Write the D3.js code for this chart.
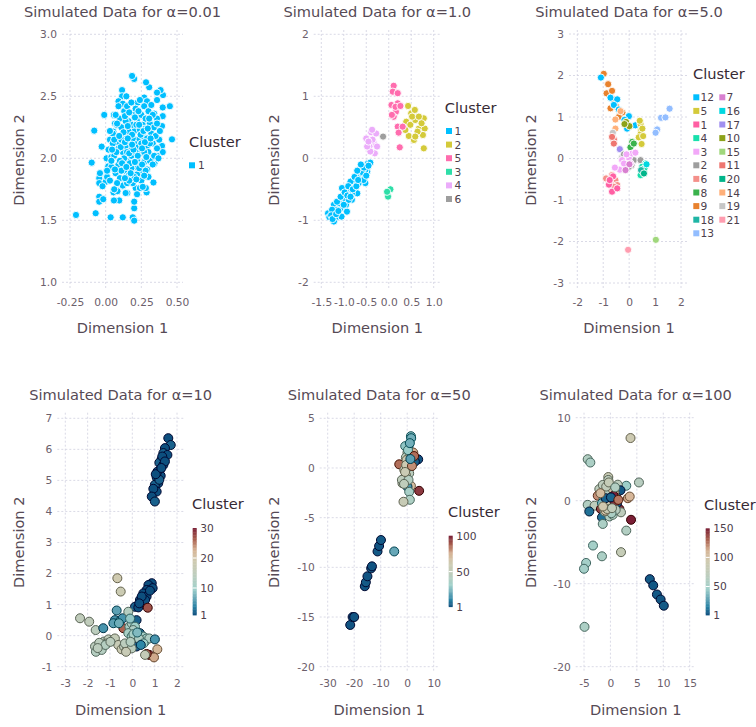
<!DOCTYPE html>
<html>
<head>
<meta charset="utf-8">
<script src="https://cdn.jsdelivr.net/npm/d3@7"></script>
<style>
  body { margin: 0; background: #fff; }
  svg text { font-family: "DejaVu Sans", sans-serif; }
</style>
</head>
<body>
<svg width="756" height="727"></svg>
<script>
// ---- data ----
var alpha001Points = [
  [-0.208,1.543],[-0.07,1.557],[-0.098,1.965],[-0.08,2.223],[-0.01,2.35],[-0.045,1.84],[-0.045,1.69],[-0.045,1.65],
  [-0.017,1.67],[0.035,1.524],[0.12,1.524],[0.19,1.524],[0.2,1.497],[0.2,1.597],[0.2,1.65],[0.095,1.66],[0.058,1.66],
  [0.152,1.72],[0.21,1.76],[0.24,1.76],[0.22,1.71],[0.287,1.725],[0.282,1.76],[0.335,1.805],[0.342,1.96],[0.465,2.153],
  [0.45,2.42],[0.40,2.34],[0.40,2.41],[0.402,2.51],[0.385,2.55],[0.36,2.53],[0.36,2.47],[0.305,2.573],[0.283,2.613],
  [0.2,2.64],[0.185,2.664],[0.115,2.55],[0.115,2.5],[0.145,2.5],[0.09,2.46],[0.225,2.45],[0.27,2.49],[0.29,2.46],
  [0.34,2.36],[0.36,2.32],[0.395,2.26],[0.395,2.10],[0.40,2.05],[0.375,2.15],[0.36,2.02],[0.32,1.99],[0.29,1.91],
  [0.26,1.89],[-0.028,2.094],[0.006,2.0],[0.018,1.935],[-0.04,1.88],[-0.045,1.8],[0.0,1.81],[0.04,2.01],[0.03,2.15],
  [0.054,2.215],[0.065,2.28],[0.058,2.35],[0.077,2.27],[0.01,1.85],[-0.022,1.775],[0.055,1.725],[0.083,1.735],[0.12,1.775],
  [0.05,2.20],[0.08,2.12],[0.11,2.25],[0.14,2.18],[0.17,2.08],[0.2,2.22],[0.23,2.15],[0.26,2.27],[0.29,2.1],[0.32,2.2],
  [0.06,2.02],[0.09,1.95],[0.12,2.05],[0.15,1.98],[0.18,2.02],[0.21,1.93],[0.24,2.04],[0.27,1.97],[0.3,2.05],[0.33,2.12],
  [0.07,1.88],[0.1,1.84],[0.13,1.9],[0.16,1.86],[0.19,1.8],[0.22,1.87],[0.25,1.82],[0.28,1.9],[0.04,1.93],[0.02,2.07],
  [0.1,2.32],[0.13,2.38],[0.16,2.3],[0.19,2.36],[0.22,2.3],[0.25,2.35],[0.28,2.32],[0.31,2.28],[0.34,2.25],[0.08,2.28],
  [0.12,2.44],[0.15,2.42],[0.18,2.45],[0.21,2.4],[0.27,2.42],[0.3,2.38],[0.33,2.35],[0.11,2.15],[0.14,2.1],[0.17,2.14],
  [0.2,2.12],[0.23,2.09],[0.26,2.18],[0.29,2.16],[0.35,2.18],[0.36,2.08],[0.31,1.98],[0.34,2.02],[0.05,2.12],[0.03,2.22],
  [0.07,2.35],[0.19,2.27],[0.16,2.22],[0.13,2.0],[0.22,1.98],[0.09,2.08],[0.24,2.23],[0.27,2.05],[0.18,1.92],[0.12,1.78],
  [0.15,1.8],[0.08,1.8],[0.26,1.77],[0.3,1.85],[0.2,1.85],[0.04,1.98],[0.36,2.28],[0.38,2.22],[0.32,2.43],[0.24,2.47],
  [0.17,1.96],[0.14,2.3],[0.25,2.12],[0.21,2.05],[0.1,1.98],[0.06,2.15],[0.28,2.24],[0.31,2.12],[0.01,1.9],[0.03,1.82],
  [0.23,2.38],[0.15,2.05],[0.19,2.16],[0.11,1.9],[0.27,1.86],[0.33,1.95],[0.37,2.0],[0.14,1.72],[0.06,1.75],[0.09,2.42],
  [0.125,2.21],[0.155,2.26],[0.185,2.19],[0.215,2.27],[0.245,2.19],[0.275,2.13],[0.105,2.09],[0.135,2.13],[0.165,2.04],
  [0.195,2.07],[0.225,2.02],[0.255,2.08],[0.285,2.01],[0.115,1.96],[0.145,1.93],[0.175,1.88],[0.205,1.97],[0.235,1.92],
  [0.095,2.18],[0.075,2.05],[0.065,1.91],[0.135,2.34],[0.165,2.37],[0.205,2.33],[0.235,2.27],[0.265,2.22],[0.295,2.24],
  [0.315,2.16],[0.185,2.11],[0.155,2.16],[0.045,2.07],[0.255,1.95],[0.215,1.83],[0.165,1.82],[0.135,1.84],[0.305,2.32]
];
var alpha001Legend = ["1"];

var alpha1Points = [
  [-1.35,-0.887,"1"],[-1.32,-0.95,"1"],[-1.22,-1.02,"1"],[-1.2,-0.887,"1"],[-1.22,-0.75,"1"],[-1.13,-0.94,"1"],
  [-1.08,-0.81,"1"],[-1.04,-0.70,"1"],[-1.02,-0.62,"1"],[-1.04,-0.48,"1"],[-0.93,-0.86,"1"],[-0.96,-0.67,"1"],
  [-0.89,-0.565,"1"],[-0.85,-0.51,"1"],[-0.78,-0.457,"1"],[-0.74,-0.35,"1"],[-0.67,-0.24,"1"],[-0.63,-0.30,"1"],
  [-0.59,-0.13,"1"],[-0.52,-0.40,"1"],[-0.48,-0.215,"1"],[-0.46,-0.08,"1"],[-0.41,-0.07,"1"],[-0.82,-0.67,"1"],
  [-0.70,-0.565,"1"],[-1.10,-0.726,"1"],[-0.95,-0.75,"1"],[-1.15,-0.83,"1"],[-0.85,-0.376,"1"],[-0.67,-0.40,"1"],
  [-0.56,-0.35,"1"],[-0.59,-0.24,"1"],[-0.52,-0.19,"1"],[-0.74,-0.457,"1"],[-0.82,-0.565,"1"],[-1.26,-0.83,"1"],
  [-1.05,-0.94,"1"],[-0.89,-0.67,"1"],[-1.28,-0.92,"1"],[-1.25,-0.98,"1"],[-1.17,-0.9,"1"],[-1.12,-0.85,"1"],
  [-1.15,-0.7,"1"],[-1.07,-0.62,"1"],[-1.0,-0.75,"1"],[-0.98,-0.55,"1"],[-0.92,-0.6,"1"],[-0.9,-0.45,"1"],
  [-0.85,-0.62,"1"],[-0.8,-0.5,"1"],[-0.76,-0.3,"1"],[-0.72,-0.45,"1"],[-0.68,-0.35,"1"],[-0.65,-0.18,"1"],
  [-0.6,-0.22,"1"],[-0.55,-0.15,"1"],[-0.5,-0.28,"1"],[-0.45,-0.12,"1"],[-0.62,-0.1,"1"],[-0.7,-0.2,"1"],
  [0.43,0.844,"2"],[0.5,0.726,"2"],[0.58,0.78,"2"],[0.39,0.59,"2"],[0.48,0.54,"2"],[0.59,0.618,"2"],[0.67,0.48,"2"],
  [0.78,0.645,"2"],[0.8,0.48,"2"],[0.76,0.376,"2"],[0.78,0.161,"2"],[0.56,0.296,"2"],[0.445,0.36,"2"],[0.64,0.43,"2"],
  [0.73,0.565,"2"],[0.52,0.672,"2"],[0.67,0.672,"2"],[0.37,0.457,"2"],[0.59,0.35,"2"],
  [0.11,1.17,"5"],[0.09,1.075,"5"],[0.2,1.05,"5"],[0.06,0.86,"5"],[0.2,0.887,"5"],[0.16,0.75,"5"],[0.11,0.67,"5"],
  [0.2,0.51,"5"],[0.22,0.414,"5"],[0.245,0.177,"5"],[0.31,0.51,"5"],[0.15,0.83,"5"],[0.26,0.844,"5"],[0.07,0.70,"5"],
  [0.037,-0.5,"3"],[-0.015,-0.618,"3"],[-0.037,-0.54,"3"],
  [-0.39,0.42,"4"],[-0.50,0.32,"4"],[-0.33,0.24,"4"],[-0.43,0.19,"4"],[-0.31,0.08,"4"],[-0.41,0.11,"4"],
  [-0.28,0.40,"4"],[-0.48,0.19,"4"],[-0.36,0.30,"4"],[-0.26,0.19,"4"],[-0.45,0.27,"4"],[-0.37,0.46,"4"],
  [-0.126,0.35,"6"]
];
var alpha1Legend = ["1","2","5","3","4","6"];

var alpha5Points = [
  [-0.98,2.04,"9"],[-0.81,1.79,"9"],[-0.87,1.57,"9"],[-0.66,1.63,"9"],[-0.59,1.425,"9"],[-0.72,1.21,"9"],
  [-0.50,1.25,"9"],[-0.36,1.05,"9"],[-0.26,1.11,"9"],[-0.40,1.0,"9"],
  [-1.09,1.95,"12"],[-0.72,1.465,"12"],[-0.46,1.425,"12"],[-0.59,1.29,"12"],[-0.40,1.18,"12"],[-0.01,1.02,"12"],
  [-0.18,0.93,"12"],[0.24,0.80,"12"],[-0.08,0.72,"12"],
  [-0.12,0.88,"10"],[0.01,0.78,"10"],[-0.18,0.83,"10"],
  [-0.53,0.94,"14"],[-0.53,0.72,"14"],[-0.33,1.14,"14"],
  [-0.63,0.62,"19"],[-0.28,0.02,"19"],
  [-0.59,0.46,"11"],[-0.59,0.36,"11"],[-0.66,0.52,"11"],
  [0.44,0.83,"5"],[0.46,0.67,"5"],[0.44,0.59,"5"],[0.48,0.35,"5"],[0.51,0.72,"5"],[0.37,0.51,"5"],[0.54,0.54,"5"],[0.41,0.91,"5"],
  [0.12,0.40,"8"],[0.05,0.27,"8"],[0.18,0.36,"8"],
  [-0.36,0.225,"17"],
  [-0.2,0.10,"2"],[0.18,-0.04,"2"],[0.44,-0.04,"2"],[0.09,-0.16,"2"],[-0.01,-0.2,"2"],
  [-0.27,-0.04,"3"],[-0.01,0.02,"3"],[-0.36,-0.27,"3"],[-0.14,-0.2,"3"],[0.12,0.12,"3"],[0.24,0.14,"3"],
  [-0.1,0.1,"3"],[-0.55,-0.22,"3"],[0.05,-0.12,"3"],[-0.2,-0.12,"3"],
  [0.01,-0.14,"7"],[-0.14,-0.28,"7"],
  [0.63,-0.12,"4"],[0.50,-0.2,"4"],[0.44,-0.40,"4"],[0.54,-0.32,"4"],[0.59,-0.24,"4"],
  [0.46,-0.28,"18"],[0.57,-0.36,"20"],[0.67,-0.14,"16"],
  [-0.89,-0.48,"6"],[-0.66,-0.40,"6"],[-0.53,-0.52,"6"],[-0.46,-0.64,"6"],[-0.72,-0.59,"6"],[-0.59,-0.68,"6"],
  [-0.78,-0.63,"1"],[-0.66,-0.80,"1"],[-0.62,-0.43,"1"],[-0.46,-0.72,"1"],[-0.75,-0.52,"1"],
  [1.56,1.20,"13"],[1.23,0.98,"13"],[1.40,0.99,"13"],[1.08,0.70,"13"],[1.02,0.62,"13"],
  [1.03,-1.96,"15"],[-0.04,-2.2,"21"]
];
var alpha5LegendCol1 = ["12","5","1","4","3","2","6","8","9","18","13"];
var alpha5LegendCol2 = ["7","16","17","10","15","11","20","14","19","21"];

var alpha10Points = [
  [1.61,6.36,1],[1.72,6.14,2],[1.46,6.04,1],[1.39,5.88,2],[1.57,5.82,1],[1.31,5.68,1],[1.21,5.57,2],[1.39,5.50,1],
  [1.24,5.34,1],[1.09,5.10,2],[1.27,5.15,1],[1.16,4.91,1],[1.01,4.86,2],[1.09,4.64,1],[0.94,4.73,1],[0.87,4.48,1],
  [1.01,4.32,2],[1.34,5.77,1],[1.46,5.61,1],[1.12,5.28,1],[1.21,5.02,2],[1.05,5.2,1],[1.3,5.4,1],
  [0.87,1.69,1],[0.72,1.63,1],[0.91,1.53,1],[0.64,1.47,1],[0.49,1.36,1],[0.64,1.26,1],[0.34,1.15,1],[0.46,1.04,1],
  [0.12,0.93,2],[0.27,0.91,1],[0.79,1.45,1],[0.57,1.15,1],[0.42,1.26,1],[0.31,1.04,1],[0.69,0.90,27],
  [-0.67,1.85,19],[-0.52,1.42,18],
  [-2.34,0.56,15],[-1.93,0.45,15],[-1.64,0.18,14],[-1.30,0.24,5],[-1.67,-0.35,14],[-1.63,-0.52,13],[-1.45,-0.35,15],
  [-1.27,-0.19,14],[-1.07,-0.12,15],[-0.88,-0.16,14],[-0.78,-0.09,16],[-1.37,-0.46,13],[-1.15,-0.25,15],
  [-1.48,-0.23,14],[-0.63,-0.30,17],[-0.48,-0.44,18],[-0.37,-0.35,15],[-0.25,-0.46,16],[-0.33,-0.25,14],
  [-1.2,-0.3,13],[-0.98,-0.2,14],[-1.55,-0.4,14],
  [-0.70,0.81,6],[-0.78,0.50,5],[-0.55,0.48,6],[-0.43,0.56,5],[-0.85,0.40,6],[-0.18,0.77,13],[-0.40,0.24,26],
  [-0.13,0.29,11],[-0.03,0.40,12],[0.19,0.50,2],[0.12,0.29,10],[0.04,0.18,12],[-0.18,0.08,11],[-0.03,-0.03,10],
  [0.12,-0.14,25],[0.27,-0.25,9],[0.19,-0.35,2],[0.34,0.08,3],[0.49,-0.03,11],[0.42,-0.14,12],[0.57,-0.19,11],
  [0.64,-0.09,10],[0.76,-0.09,12],[1.01,-0.12,5],[1.12,-0.44,22],[0.76,-0.62,28],[0.97,-0.70,23],[0.64,-0.59,26],
  [0.57,-0.62,16],[-0.03,-0.41,14],[-0.28,-0.52,17],
  [-0.6,0.4,7],[-0.1,0.55,9],[0.05,0.05,11],[0.3,-0.1,12],[0.22,0.1,8],[0.5,-0.25,10],[-0.08,-0.2,13],[0.38,-0.3,4]
];

var alpha50Points = [
  [-21.5,-15.8,2],[-20.6,-15.0,1],[-20.0,-15.0,2],[-16.0,-11.9,2],[-15.6,-11.5,3],[-15.0,-10.9,2],[-13.6,-10.1,3],
  [-13.3,-9.9,2],[-11.2,-8.4,3],[-10.6,-7.85,2],[-9.9,-7.25,3],[-4.9,-8.4,20],
  [1.4,3.2,25],[1.5,3.0,22],[0.5,2.15,20],[-0.75,2.2,28],[2.3,1.55,75],[0.1,1.55,50],[-0.5,1.07,45],[0.75,1.07,55],
  [3.3,0.87,3],[4.15,0.87,2],[2.9,0.64,4],[-3.0,0.37,85],[0.1,0.47,25],[1.4,0.13,90],[-1.1,-0.2,55],[0.75,-0.54,45],
  [-1.1,-1.04,50],[-1.8,-1.54,52],[1.4,-1.8,70],[0.1,-1.9,15],[0.75,-2.4,35],[4.5,-2.3,95],[1.0,-3.2,38],[-1.4,-3.4,55],
  [-0.5,-0.7,58],[-2.0,-1.2,48],[0.5,0.13,22],[-0.25,0.8,60],
  [0.3,1.8,30],[1.0,2.5,22],[-0.4,0.3,60],[1.8,0.2,80],[0.5,-1.2,42],[-1.2,-1.6,48],[2.6,1.2,85],[1.2,0.9,18],[-0.8,-0.4,58]
];

var alpha100Points = [
  [3.8,7.55,90],[-4.3,5.0,60],[-3.8,4.6,55],[5.4,2.2,65],[3.0,1.8,45],[-0.4,2.85,85],[-2.1,1.4,70],[-1.1,1.0,5],
  [0.1,1.65,10],[1.4,1.93,70],[1.9,1.25,3],[1.07,0.52,12],[-2.4,0.6,120],[-4.3,-0.5,60],[-3.0,-0.6,70],[-4.0,-1.3,10],
  [-1.8,-1.0,140],[0.13,-0.1,8],[1.7,-1.0,145],[2.0,-1.4,70],[3.9,-2.3,150],[3.0,-3.6,60],[-1.6,-2.0,10],[-1.45,-2.8,55],
  [-3.3,-5.4,50],[-1.6,-6.7,55],[2.0,-6.2,80],[-4.6,-7.5,50],[-5.0,-8.2,50],[-4.9,-15.2,55],[3.3,0.3,115],[3.65,0.5,110],
  [-0.4,2.5,70],[-0.8,-0.5,100],[0.44,-0.7,45],[-0.2,-1.9,60],[0.44,-1.7,60],[-1.1,-1.3,65],[-0.5,0.5,130],[0.75,1.0,95],
  [-1.1,0.1,140],[1.26,-0.3,4],[-1.45,1.9,70],
  [-0.5,0.9,60],[0.3,0.2,130],[-0.2,-0.4,90],[0.8,-0.2,145],[-1.3,0.3,40],[0.5,1.3,100],[-0.8,1.7,75],[1.0,-1.1,65],
  [-0.3,2.2,80],[0.2,-1.5,55],[-1.6,-0.3,35],[0.6,0.6,150],[-0.9,-1.2,100],[-0.9,0.3,6],[0.1,0.4,7],
  [-1.9,0.9,105],[1.5,0.1,125],[-0.6,-1.0,85],[0.9,1.6,60],[-1.4,-0.7,95],[0.3,-0.9,75],
  [7.45,-9.45,4],[8.1,-10.2,3],[8.8,-11.3,4],[9.5,-11.9,3],[10.1,-12.65,4]
];

var xTicks = [[-0.25,0,0.25,0.5],[-1.5,-1,-0.5,0,0.5,1],[-2,-1,0,1,2],[-3,-2,-1,0,1,2],[-30,-20,-10,0,10],[-5,0,5,10,15]];
var xTickLabels = [["-0.25","0.00","0.25","0.50"],["-1.5","-1.0","-0.5","0.0","0.5","1.0"],["-2","-1","0","1","2"],
  ["-3","-2","-1","0","1","2"],["-30","-20","-10","0","10"],["-5","0","5","10","15"]];
var yTicks = [[1,1.5,2,2.5,3],[-2,-1,0,1,2],[-3,-2,-1,0,1,2,3],[-1,0,1,2,3,4,5,6,7],[-20,-15,-10,-5,0,5],[-20,-10,0,10]];
var yTickLabels = [["1.0","1.5","2.0","2.5","3.0"],["-2","-1","0","1","2"],["-3","-2","-1","0","1","2","3"],
  ["-1","0","1","2","3","4","5","6","7"],["-20","-15","-10","-5","0","5"],["-20","-10","0","10"]];
var titles = ["Simulated Data for α=0.01","Simulated Data for α=1.0","Simulated Data for α=5.0",
  "Simulated Data for α=10","Simulated Data for α=50","Simulated Data for α=100"];
var colorbarTicks = [[1,10,20,30],[1,50,100],[1,50,100,150]];

// ---- styling ----
var discreteColors = {
  "1":"#00BFFF","2":"#D4CA3A","5":"#FF6DAE","3":"#2EDEA8","4":"#EBACFA","6":"#9E9E9E"
};
var alpha5Colors = ["#00BFFF","#D4CA3A","#FF5FA3","#19E0AC","#F2A8F8","#9E9E9E","#F4908A","#3AB24C","#E8822E",
  "#1FB5A5","#92BDFF","#D880D0","#00D8E0","#A08FF0","#8CA21A","#A0D77C","#EE7670","#00B58A","#FFB079","#C6C6C6","#FF9DB0"];
var alpha5Cats = alpha5LegendCol1.concat(alpha5LegendCol2);

var contStops = [0, 0.1, 0.3, 0.45, 0.62, 0.74, 0.87, 1];
var contColors = ["#0D4F7E","#2A86A6","#9FD0CA","#BCCDBE","#CFCAB0","#D6B597","#A9604F","#7A1E36"];
var contScale = d3.scaleLinear().domain(contStops).range(contColors).interpolate(d3.interpolateLab);

var svg = d3.select("svg");
var majorColor = "#564A55", minorColor = "#6C606B";

var panels = [
  {xd:[-0.25,0.5], xr:[70,177], yd:[1,3], yr:[282.3,34.3], gx:[62,183], gy:[30,290], ylab:24, top:true},
  {xd:[-1.5,1], xr:[321.3,433.7], yd:[-2,2], yr:[282.3,34.3], gx:[313.7,441], gy:[30,290], ylab:279.3, top:true},
  {xd:[-2,2], xr:[577.3,681], yd:[-3,3], yr:[283,34], gx:[569,689], gy:[30,290], ylab:535.7, top:true},
  {xd:[-3,2], xr:[65.3,177], yd:[-1,7], yr:[666.7,418.3], gx:[57.3,184], gy:[412.7,671.7], ylab:24, top:false},
  {xd:[-30,10], xr:[327.7,433.7], yd:[-20,5], yr:[666.7,418.3], gx:[319.7,438.7], gy:[412.7,671.7], ylab:279.3, top:false},
  {xd:[-5,15], xr:[584,689.7], yd:[-20,10], yr:[666.7,417.7], gx:[575.7,695.7], gy:[412.7,671.7], ylab:535.7, top:false}
];

panels.forEach(function (p, i) {
  p.x = d3.scaleLinear().domain(p.xd).range(p.xr);
  p.y = d3.scaleLinear().domain(p.yd).range(p.yr);
  var g = svg.append("g");
  var cx = (p.gx[0] + p.gx[1]) / 2, cy = (p.gy[0] + p.gy[1]) / 2;

  // grid
  g.selectAll(".vg").data(xTicks[i]).enter().append("line")
    .attr("x1", function (d) { return p.x(d); }).attr("x2", function (d) { return p.x(d); })
    .attr("y1", p.gy[0]).attr("y2", p.gy[1])
    .attr("stroke", "#D0D0E0").attr("stroke-width", 0.8).attr("stroke-dasharray", "2,2");
  g.selectAll(".hg").data(yTicks[i]).enter().append("line")
    .attr("y1", function (d) { return p.y(d); }).attr("y2", function (d) { return p.y(d); })
    .attr("x1", p.gx[0]).attr("x2", p.gx[1])
    .attr("stroke", "#D0D0E0").attr("stroke-width", 0.8).attr("stroke-dasharray", "2,2");

  // axes (labels only)
  var xa = g.append("g").attr("transform", "translate(0," + (p.gy[1] + 4) + ")")
    .call(d3.axisBottom(p.x).tickValues(xTicks[i]).tickSize(0).tickPadding(4)
      .tickFormat(function (d, k) { return xTickLabels[i][k]; }));
  var ya = g.append("g").attr("transform", "translate(" + (p.gx[0] - 5) + ",0)")
    .call(d3.axisLeft(p.y).tickValues(yTicks[i]).tickSize(0).tickPadding(0)
      .tickFormat(function (d, k) { return yTickLabels[i][k]; }));
  [xa, ya].forEach(function (a) {
    a.select(".domain").remove();
    a.selectAll("text").attr("font-size", "10.67px").attr("fill", minorColor)
      .style("font-family", "'DejaVu Sans', sans-serif");
  });

  g.append("text").attr("x", cx).attr("y", p.top ? 17 : 400)
    .attr("text-anchor", "middle").attr("font-size", "14.6px").attr("fill", majorColor).text(titles[i]);
  g.append("text").attr("x", cx).attr("y", p.gy[1] + 43)
    .attr("text-anchor", "middle").attr("font-size", "14.6px").attr("fill", majorColor).text("Dimension 1");
  g.append("text").attr("transform", "translate(" + p.ylab + "," + cy + ") rotate(-90)")
    .attr("text-anchor", "middle").attr("font-size", "14.6px").attr("fill", majorColor).text("Dimension 2");
  p.g = g;
});

function keyTitle(x, y) {
  svg.append("text").attr("x", x).attr("y", y).attr("font-size", "14.6px").attr("fill", "#362A35").text("Cluster");
}
function keyItems(cats, colorOf, sx, lx, y0) {
  var k = svg.append("g");
  k.selectAll("rect").data(cats).enter().append("rect")
    .attr("x", sx).attr("y", function (d, j) { return y0 + j * 13.6 - 3; })
    .attr("width", 6).attr("height", 6).attr("fill", colorOf);
  k.selectAll("text").data(cats).enter().append("text")
    .attr("x", lx).attr("y", function (d, j) { return y0 + j * 13.6 + 4; })
    .attr("font-size", "10.67px").attr("fill", "#4C404B").text(function (d) { return d; });
}

// panel 1
var p = panels[0];
p.g.selectAll("circle").data(alpha001Points).enter().append("circle")
  .attr("cx", function (d) { return p.x(d[0]); }).attr("cy", function (d) { return p.y(d[1]); })
  .attr("r", 3.6).attr("fill", "#00BFFF").attr("stroke", "#fff").attr("stroke-width", 0.9);
keyTitle(189, 147);
keyItems(alpha001Legend, function () { return "#00BFFF"; }, 189, 198, 165.3);

// panel 2
var p2 = panels[1];
p2.g.selectAll("circle").data(alpha1Points).enter().append("circle")
  .attr("cx", function (d) { return p2.x(d[0]); }).attr("cy", function (d) { return p2.y(d[1]); })
  .attr("r", 3.6).attr("fill", function (d) { return discreteColors[d[2]]; })
  .attr("stroke", "#fff").attr("stroke-width", 0.9);
keyTitle(444.7, 113);
keyItems(alpha1Legend, function (d) { return discreteColors[d]; }, 446, 454.5, 131);

// panel 3
var p3 = panels[2];
var c5 = function (d) { return alpha5Colors[alpha5Cats.indexOf(d)]; };
p3.g.selectAll("circle").data(alpha5Points).enter().append("circle")
  .attr("cx", function (d) { return p3.x(d[0]); }).attr("cy", function (d) { return p3.y(d[1]); })
  .attr("r", 3.6).attr("fill", function (d) { return c5(d[2]); })
  .attr("stroke", "#fff").attr("stroke-width", 0.9);
keyTitle(693, 79);
keyItems(alpha5LegendCol1, c5, 693.3, 700.5, 97.3);
keyItems(alpha5LegendCol2, c5, 719.3, 726.5, 97.3);

// continuous panels
var contData = [alpha10Points, alpha50Points, alpha100Points];
var cbars = [
  {max:30, x:192.7, top:528, bottom:615, title:[192, 509]},
  {max:100, x:448.7, top:535.7, bottom:606.7, title:[448, 516.5]},
  {max:150, x:705.7, top:528.3, bottom:615, title:[704, 509.5]}
];
contData.forEach(function (data, j) {
  var pp = panels[3 + j], cb = cbars[j];
  var t = d3.scaleLinear().domain([1, cb.max]).range([0, 1]);
  pp.g.selectAll("circle").data(data).enter().append("circle")
    .attr("cx", function (d) { return pp.x(d[0]); }).attr("cy", function (d) { return pp.y(d[1]); })
    .attr("r", 4.5)
    .attr("fill", function (d) { return contScale(t(d[2])); })
    .attr("stroke", function (d) { var c = d3.lab(contScale(t(d[2]))); c.l = Math.max(0, c.l - 40); return c.formatHex(); })
    .attr("stroke-width", 1);

  keyTitle(cb.title[0], cb.title[1]);
  var vy = d3.scaleLinear().domain([1, cb.max]).range([cb.bottom, cb.top]);
  var steps = d3.range(0, 60);
  svg.append("g").selectAll("rect").data(steps).enter().append("rect")
    .attr("x", cb.x).attr("width", 4)
    .attr("y", function (s) { return cb.top + (cb.bottom - cb.top) * s / 60; })
    .attr("height", (cb.bottom - cb.top) / 60 + 0.4)
    .attr("fill", function (s) { return contScale(1 - (s + 0.5) / 60); });
  svg.append("g").selectAll("line").data(colorbarTicks[j].slice(1, -1)).enter().append("line")
    .attr("x1", cb.x).attr("x2", cb.x + 4)
    .attr("y1", function (d) { return vy(d); }).attr("y2", function (d) { return vy(d); })
    .attr("stroke", "#fff").attr("stroke-width", 1);
  svg.append("g").selectAll("text").data(colorbarTicks[j]).enter().append("text")
    .attr("x", cb.x + 7.5).attr("y", function (d) { return vy(d) + 4; })
    .attr("font-size", "10.67px").attr("fill", "#4C404B").text(function (d) { return d; });
});
</script>
</body>
</html>
